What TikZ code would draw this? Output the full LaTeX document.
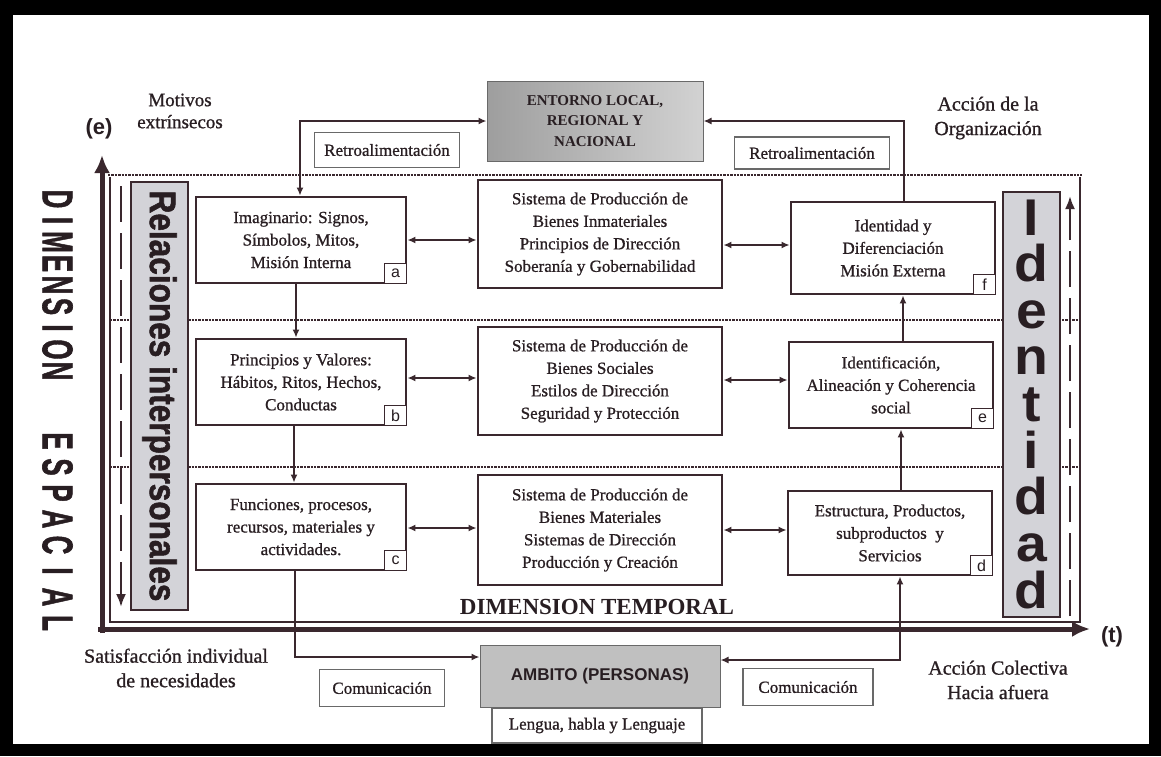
\documentclass[tikz,border=0pt]{standalone}
\usepackage{fontspec}
\setmainfont{Liberation Serif}
\newfontfamily\sansfam{Liberation Sans}
\newfontface\inkserif{Liberation Serif}[FakeBold=0.9]
\newfontface\heavysans{Liberation Sans Bold}[FakeBold=1.6]
\newfontface\identfont{Liberation Sans Bold}[FakeStretch=1.35]
\usetikzlibrary{arrows.meta}
\definecolor{ink}{RGB}{58,40,46}
\definecolor{txt}{RGB}{40,30,34}
\definecolor{boxgrayA}{RGB}{158,158,158}
\definecolor{boxgrayB}{RGB}{210,210,210}
\definecolor{ambgray}{RGB}{192,192,192}
\definecolor{bandgray}{RGB}{211,211,216}
\definecolor{framegray}{RGB}{105,105,105}

\begin{document}
\begin{tikzpicture}[x=1pt,y=-1pt,
  every node/.style={text=txt},
  rbox/.style={draw=ink, line width=2.8pt, fill=white, align=center, inner sep=2pt,
    font=\inkserif\fontsize{17}{22.5}\selectfont},
  tag/.style={draw=ink, line width=1.7pt, fill=white, minimum width=22pt,
    minimum height=20pt, inner sep=0pt, font=\sansfam\fontsize{16}{16}\selectfont,
    anchor=south east},
  conn/.style={draw=ink, line width=2.8pt, >={Latex[length=8pt,width=7pt]}},
  axisline/.style={draw=ink, line width=5pt, -{Latex[length=18pt,width=16pt]}},
  dotline/.style={draw=ink, line width=2.4pt, dash pattern=on 2.4pt off 1pt},
  dashline/.style={draw=ink, line width=2.3pt, dash pattern=on 36pt off 11pt,
    -{Latex[length=13pt,width=10pt]}},
  note/.style={draw=framegray, line width=1.2pt, fill=white,
    font=\inkserif\fontsize{17}{20}\selectfont, inner xsep=6pt},
  free/.style={align=center, font=\inkserif\fontsize{20}{24.5}\selectfont},
  dimletter/.style={rotate=-90, inner sep=0pt,
    font=\heavysans\fontsize{26}{26}\selectfont},
]
% page frame
\fill[black] (0,0) rectangle (1161,756);
\fill[white] (13,15) rectangle (1149,744);
\useasboundingbox (0,0) rectangle (1161,756);

% level separators
\draw[dotline] (108,175) -- (1082,175);
\draw[dotline] (110,320) -- (1080,320);
\draw[dotline] (110,467) -- (1080,467);
% inner frame
\draw[ink, line width=1.4pt] (110,177) -- (110,622) -- (1080,622) -- (1080,177);

% axes
\coordinate (tStart) at (98,629);
\coordinate (tEnd) at (1090,629);
\coordinate (eStart) at (102,633);
\coordinate (eEnd) at (102,155);
\draw[axisline] (tStart) -- (tEnd);
\draw[axisline] (eStart) -- (eEnd);

% dashed direction arrows
\coordinate (lTop) at (121,186);
\coordinate (lBot) at (121,607);
\coordinate (rBot) at (1070,616);
\coordinate (rTop) at (1070,196);
\draw[dashline] (lTop) -- (lBot);
\draw[dashline] (rBot) -- (rTop);

% side bands
\node[draw=ink, line width=1.8pt, fill=bandgray, minimum width=57pt,
  minimum height=428pt, inner sep=0pt] (rel) at (159.5,396) {};
\node[rotate=-90, inner sep=0pt, font=\heavysans\fontsize{20}{20}\selectfont]
  (relTxt) at (rel.center) {\scalebox{1.58}[1.85]{Relaciones interpersonales}};
\node[draw=ink, line width=1.8pt, fill=bandgray, minimum width=57pt,
  minimum height=425pt, inner sep=0pt] (ident) at (1031.5,404.5) {};
\node[inner sep=0pt] (identTxt) at (1031.5,404)
  {\scalebox{1}[1.26]{\begin{minipage}{56pt}\centering
   \identfont\fontsize{41}{37}\selectfont I\\d\\e\\n\\t\\i\\d\\a\\d\end{minipage}}};

% vertical axis title
\foreach \ch [count=\i] in {D,I,M,E,N,S,I,O,N}
  \node[dimletter] (dA\i) at (57.5,{199+21.5*(\i-1)}) {\scalebox{1}[1.65]{\ch}};
\foreach \ch [count=\i] in {E,S,P,A,C,I,A,L}
  \node[dimletter] (dB\i) at (57.5,{441+26*(\i-1)}) {\scalebox{1}[1.65]{\ch}};

% outer labels
\node[font=\sansfam\bfseries\fontsize{22}{22}\selectfont] (eLbl) at (99,129) {(e)};
\node[font=\sansfam\bfseries\fontsize{22}{22}\selectfont] (tLbl) at (1112,637) {(t)};
\node[free, font=\inkserif\fontsize{19}{22}\selectfont] (motivos) at (180,111) {Motivos\\extrínsecos};
\node[free] (accionOrg) at (988,118) {Acción de la\\Organización};
\node[free] (satisf) at (176,668) {Satisfacción individual\\de necesidades};
\node[free] (accionCol) at (998,680) {Acción Colectiva\\Hacia afuera};
\node[font=\bfseries\fontsize{23}{23}\selectfont] (dimT) at (597,607) {DIMENSION TEMPORAL};

% environment and people
\node[draw=framegray, line width=1pt, left color=boxgrayA, right color=boxgrayB,
  minimum width=216pt, minimum height=80pt, align=center,
  font=\bfseries\fontsize{15}{20.5}\selectfont] (entorno) at (595,121)
  {ENTORNO LOCAL,\\REGIONAL Y\\NACIONAL};
\node[note, minimum width=210pt, minimum height=35pt] (lengua) at (597,725.5)
  {Lengua, habla y Lenguaje};
\node[draw=framegray, line width=1pt, fill=ambgray, minimum width=240pt,
  minimum height=62pt, font=\sansfam\bfseries\fontsize{17}{17}\selectfont]
  (ambito) at (600,676) {AMBITO (PERSONAS)};

% feedback and communication notes
\node[note, minimum width=145pt, minimum height=35pt] (retroL) at (387,150) {Retroalimentación};
\node[note, minimum width=155pt, minimum height=32pt] (retroR) at (812,153) {Retroalimentación};
\node[note, minimum width=125pt, minimum height=37pt] (comL) at (382,688) {Comunicación};
\node[note, minimum width=130pt, minimum height=37pt] (comR) at (808,687) {Comunicación};

% left column
\node[rbox, minimum width=210pt, minimum height=86pt] (a) at (301,240)
  {Imaginario: Signos,\\Símbolos, Mitos,\\Misión Interna};
\node[rbox, minimum width=210pt, minimum height=86pt] (b) at (301,382)
  {Principios y Valores:\\Hábitos, Ritos, Hechos,\\Conductas};
\node[rbox, minimum width=210pt, minimum height=86pt] (c) at (301,527)
  {Funciones, procesos,\\recursos, materiales y\\actividades.};
% middle column
\node[rbox, minimum width=244pt, minimum height=108pt] (m1) at (600,234)
  {Sistema de Producción de\\Bienes Inmateriales\\Principios de Dirección\\Soberanía y Gobernabilidad};
\node[rbox, minimum width=244pt, minimum height=108pt] (m2) at (600,381)
  {Sistema de Producción de\\Bienes Sociales\\Estilos de Dirección\\Seguridad y Protección};
\node[rbox, minimum width=244pt, minimum height=110pt] (m3) at (600,530)
  {Sistema de Producción de\\Bienes Materiales\\Sistemas de Dirección\\Producción y Creación};
% right column
\node[rbox, minimum width=204pt, minimum height=92pt] (f) at (893,248)
  {Identidad y\\Diferenciación\\Misión Externa};
\node[rbox, minimum width=204pt, minimum height=86pt] (e) at (891,385)
  {Identificación,\\Alineación y Coherencia\\social};
\node[rbox, minimum width=204pt, minimum height=84pt] (d) at (890,533)
  {Estructura, Productos,\\subproductos~ y\\Servicios};

% corner tags
\node[tag] (ta) at (a.south east) {a};
\node[tag] (tb) at (b.south east) {b};
\node[tag] (tc) at (c.south east) {c};
\node[tag] (tf) at (f.south east) {f};
\node[tag] (te) at (e.south east) {e};
\node[tag] (td) at (d.south east) {d};

% horizontal links
\draw[conn,<->] (a.east |- 0,240) -- (m1.west |- 0,240);
\draw[conn,<->] (m1.east |- 0,245) -- (f.west |- 0,245);
\draw[conn,<->] (b.east |- 0,378) -- (m2.west |- 0,378);
\draw[conn,<->] (m2.east |- 0,380) -- (e.west |- 0,380);
\draw[conn,<->] (c.east |- 0,528) -- (m3.west |- 0,528);
\draw[conn,<->] (m3.east |- 0,530) -- (d.west |- 0,530);

% vertical links
\draw[conn,->] (a.south -| 296,0) -- (b.north -| 296,0);
\draw[conn,->] (b.south -| 294,0) -- (c.north -| 294,0);
\draw[conn,->] (d.north -| 901,0) -- (e.south -| 901,0);
\draw[conn,->] (e.north -| 903,0) -- (f.south -| 903,0);

% feedback with the environment
\draw[conn,<->] (entorno.west) -| (a.north -| 300,0);
\draw[conn,->] (f.north -| 904,0) |- (entorno.east);

% communication with people
\draw[conn,->] (c.south -| 295,0) |- (ambito.west |- 0,657);
\draw[conn,<->] (ambito.east |- 0,660) -| (d.south -| 900,0);
\end{tikzpicture}
\end{document}
